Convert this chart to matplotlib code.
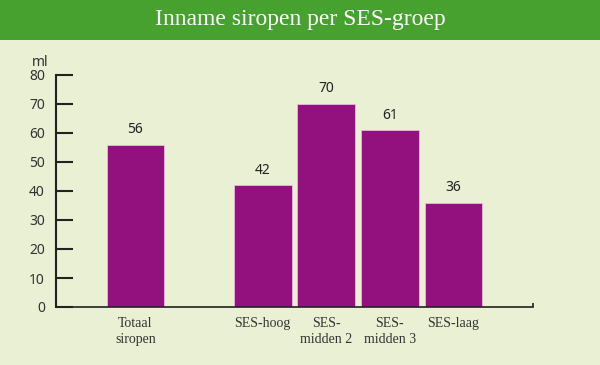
import matplotlib.pyplot as plt
from matplotlib.patches import Rectangle

labels = ['Totaal\nsiropen', 'SES-hoog', 'SES-\nmidden 2', 'SES-\nmidden 3', 'SES-laag']
positions = [0, 2, 3, 4, 5]
values = [56, 42, 70, 61, 36]

bg = '#e9f0d3'
bar_color = '#93117e'

fig = plt.figure(figsize=(6, 3.65), dpi=100, facecolor=bg)

# green header band
fig.patches.append(Rectangle((0, 1 - 40 / 365), 1, 40 / 365, transform=fig.transFigure,
                             facecolor='#46a12e', edgecolor='none', zorder=0))
fig.text(0.5, 1 - 19 / 365, 'Inname siropen per SES-groep', ha='center', va='center',
         color='white', fontsize=17, family='Liberation Serif')

ax = fig.add_axes([56 / 600, 58 / 365, 477 / 600, 232 / 365])
ax.set_facecolor(bg)
ax.bar(positions, values, width=0.91, color=bar_color, edgecolor='#e8b8dc', linewidth=0.6)
for x, v in zip(positions, values):
    ax.text(x, v + 2.6, str(v), ha='center', va='bottom', fontsize=10,
            family='Noto Sans', color='#222222')

ax.set_xlim(-1.25, 6.25)
ax.set_ylim(0, 80)
ax.set_yticks(range(0, 81, 10))
ax.set_xticks(positions)
ax.set_xticklabels(labels, family='Liberation Serif', fontsize=10, color='#333333',
                   linespacing=1.35)
ax.tick_params(axis='x', length=0, pad=7)
ax.tick_params(axis='y', direction='in', length=12, width=1.5, color='#222222',
               labelsize=10, labelcolor='#333333', pad=8)
for lab in ax.get_yticklabels():
    lab.set_family('Noto Sans')

for s in ['top', 'right']:
    ax.spines[s].set_visible(False)
ax.spines['left'].set_linewidth(1.5)
ax.spines['bottom'].set_linewidth(1.2)
ax.spines['left'].set_color('#222222')
ax.spines['bottom'].set_color('#222222')
# small end tick at right of x axis
ax.vlines(6.25, 0, 1.5, color='#222222', lw=1.2, clip_on=False)

fig.text(32 / 600, 1 - 62 / 365, 'ml', fontsize=10, family='Noto Sans', color='#333333',
         va='center')

fig.savefig('out.png', dpi=100, facecolor=bg)
